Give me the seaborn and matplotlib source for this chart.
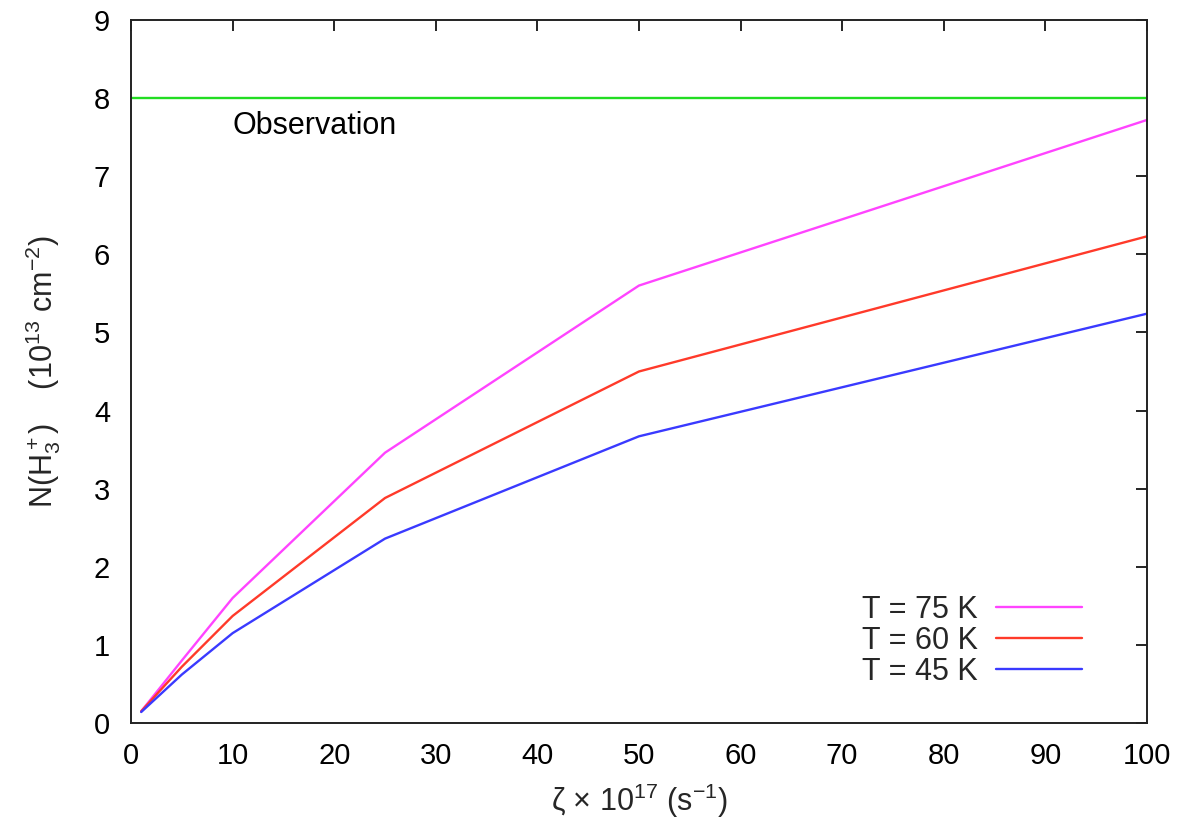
import matplotlib
matplotlib.use("Agg")
import matplotlib.pyplot as plt
import seaborn as sns
import pandas as pd
from matplotlib.lines import Line2D

zeta = [1, 5, 10, 25, 50, 100]
n_75 = [0.15, 0.80, 1.60, 3.46, 5.60, 7.72]
n_60 = [0.15, 0.72, 1.37, 2.88, 4.50, 6.23]
n_45 = [0.14, 0.62, 1.15, 2.36, 3.67, 5.24]
labels = ["T = 75 K", "T = 60 K", "T = 45 K"]
colors = ["#ff44ff", "#ff3a2a", "#3a3aff"]
observation = 8.0

sns.set_theme(style="white")
plt.rcParams['font.family'] = ['Liberation Sans', 'DejaVu Sans']
plt.rcParams['mathtext.fontset'] = 'custom'
plt.rcParams['mathtext.rm'] = 'Liberation Sans'
plt.rcParams['mathtext.it'] = 'Liberation Sans'

rows = []
for lab, vals in zip(labels, [n_75, n_60, n_45]):
    for x, y in zip(zeta, vals):
        rows.append({"zeta": x, "N": y, "T": lab})
df = pd.DataFrame(rows)

FS = 22

fig = plt.figure(figsize=(11.86, 8.27), dpi=100)
ax = fig.add_axes([0.1105, 0.1258, 0.8565, 0.85])

ax.axhline(observation, color="#22dd22", lw=1.7, zorder=1)
sns.lineplot(data=df, x="zeta", y="N", hue="T", hue_order=labels,
             palette=dict(zip(labels, colors)), lw=1.7, ax=ax, legend=False,
             estimator=None, sort=False)

ax.text(10, 7.64, "Observation", fontsize=FS, ha="left", va="center", color="black")

ax.set_xlim(0, 100)
ax.set_ylim(0, 9)
ax.set_xticks(range(0, 101, 10))
ax.set_yticks(range(0, 10))
ax.tick_params(direction="in", length=8, width=1.2, top=True, right=True,
               labelsize=21, colors="black")
ax.tick_params(axis="x", pad=14)
ax.tick_params(axis="y", pad=15)
for s in ax.spines.values():
    s.set_linewidth(1.4)
    s.set_color("#222222")

ax.set_xlabel(r"ζ × 10$^{17}$ (s$^{-1}$)", fontsize=FS, labelpad=8)
ax.set_ylabel(r"N(H$_3^+$)    (10$^{13}$ cm$^{-2}$)", fontsize=FS, labelpad=22)

handles = [Line2D([], [], color=c, lw=1.7) for c in colors]
leg = ax.legend(handles, labels, loc="lower right", bbox_to_anchor=(0.963, 0.012),
                frameon=False, markerfirst=False, fontsize=FS, handlelength=2.8,
                handletextpad=0.6, labelspacing=0.04)
for t in leg.get_texts():
    t.set_ha("right")

fig.savefig("out.png", dpi=100)
